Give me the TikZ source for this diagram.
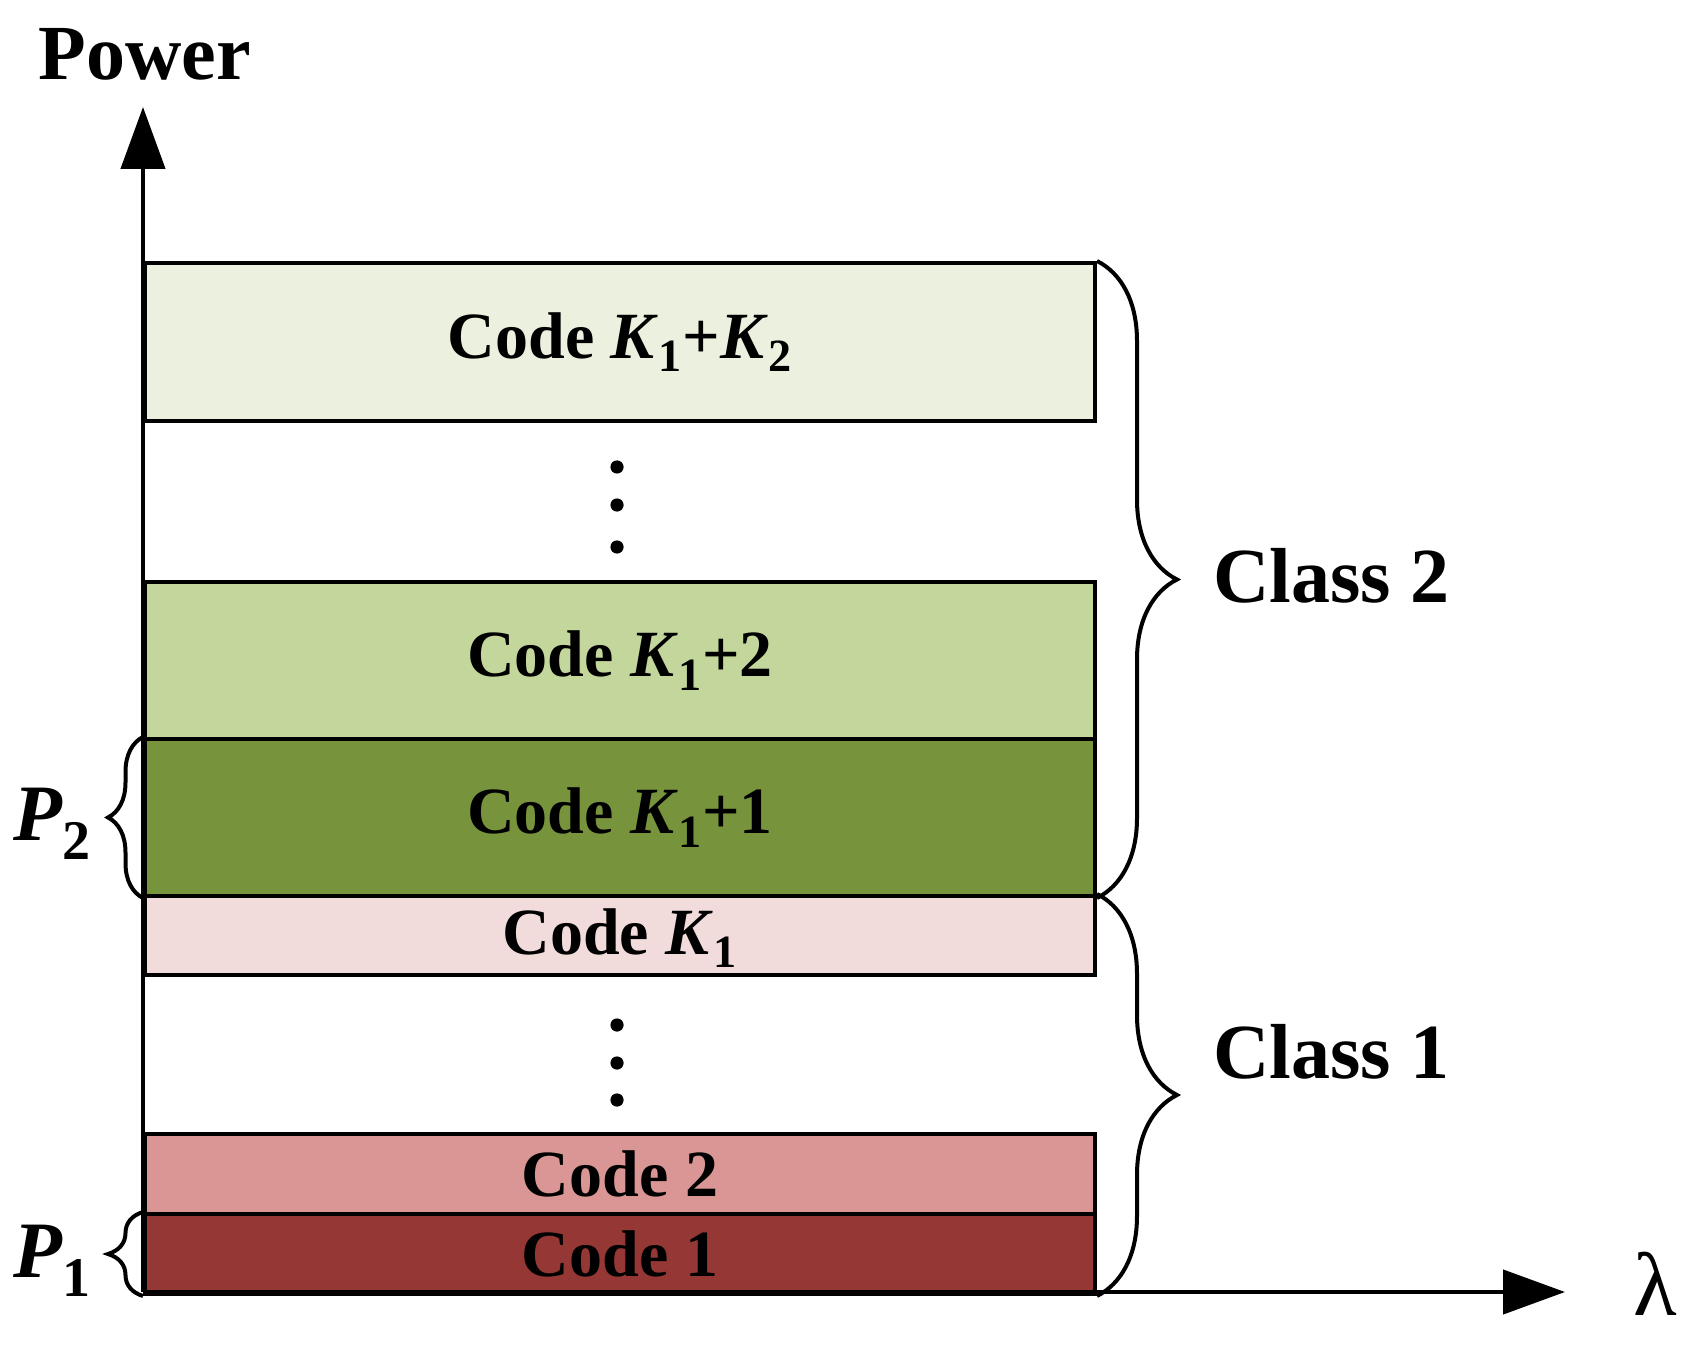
\documentclass[tikz,border=0pt]{standalone}
\usepackage{fontspec}
\setmainfont{Liberation Serif}
\usetikzlibrary{arrows.meta,decorations.pathreplacing}

\definecolor{olivepale}{HTML}{EBF1DE}
\definecolor{olivelight}{HTML}{C3D69B}
\definecolor{olivedark}{HTML}{77933C}
\definecolor{redpale}{HTML}{F2DCDB}
\definecolor{redlight}{HTML}{D99694}
\definecolor{reddark}{HTML}{953735}

\tikzset{
  codebox/.style={draw, line width=2pt, anchor=north west, minimum width=475pt,
    inner sep=0pt, font=\fontsize{33}{33}\selectfont\bfseries},
  bigtext/.style={inner sep=0pt, anchor=base west, font=\fontsize{39}{39}\selectfont\bfseries},
  axisline/.style={line width=2.2pt, -{Triangle[length=31pt,width=22pt]}},
  bracket/.style={line width=2pt, decorate, decoration={brace, amplitude=#1}},
}

\begin{document}
\begin{tikzpicture}[x=0.5pt, y=-0.5pt]
            \useasboundingbox (0,0) rectangle (1683,1348);
            % the code stack
            \node[codebox, fill=olivepale, minimum height=79pt] (ktop) at (143,261) {Code \textit{K}\textsubscript{1}+\textit{K}\textsubscript{2}};
            \node[codebox, fill=olivelight, minimum height=78.5pt] (ktwo) at (143,580) {Code \textit{K}\textsubscript{1}+2};
            \node[codebox, fill=olivedark, minimum height=78.5pt] (kone) at (143,737) {Code \textit{K}\textsubscript{1}+1};
            \node[codebox, fill=redpale, minimum height=39.5pt, text depth=4pt] (kk) at (143,894) {Code \textit{K}\textsubscript{1}};
            \node[codebox, fill=redlight, minimum height=40pt] (ctwo) at (143,1132) {Code 2};
            \node[codebox, fill=reddark, minimum height=40pt] (cone) at (143,1212) {Code 1};
            % dots
            \foreach \y in {467,505,547,1025,1063,1100}
                \fill (617,\y) circle (3.3pt);
            % axes
            \coordinate (o) at (143,1292);
            \coordinate (ytip) at (143,107);
            \coordinate (xtip) at (1565,1292);
            \draw[axisline] (o) -- (ytip);
            \draw[axisline] (o) -- (xtip);
            \node[bigtext] (power) at (38,80) {Power};
            \node[inner sep=0pt, anchor=base west, font=\fontsize{45}{45}\selectfont] (lam) at (1633,1315) {λ};
            % braces
            \draw[bracket=40pt] (ktop.north east) -- (kone.south east);
            \draw[bracket=40pt] (kk.north east) -- (cone.south east);
            \draw[bracket=17.5pt] (kone.south west) -- (kone.north west);
            \draw[bracket=17.5pt] (cone.south west) -- (cone.north west);
            \node[bigtext] (cltwo) at (1213,602) {Class 2};
            \node[bigtext] (clone) at (1213,1078) {Class 1};
            \node[bigtext, font=\fontsize{40}{40}\selectfont\bfseries] (ptwo) at (13,840) {\textit{P}\textsubscript{2}};
            \node[bigtext, font=\fontsize{40}{40}\selectfont\bfseries] (pone) at (13,1277) {\textit{P}\textsubscript{1}};
        \end{tikzpicture}
\end{document}
